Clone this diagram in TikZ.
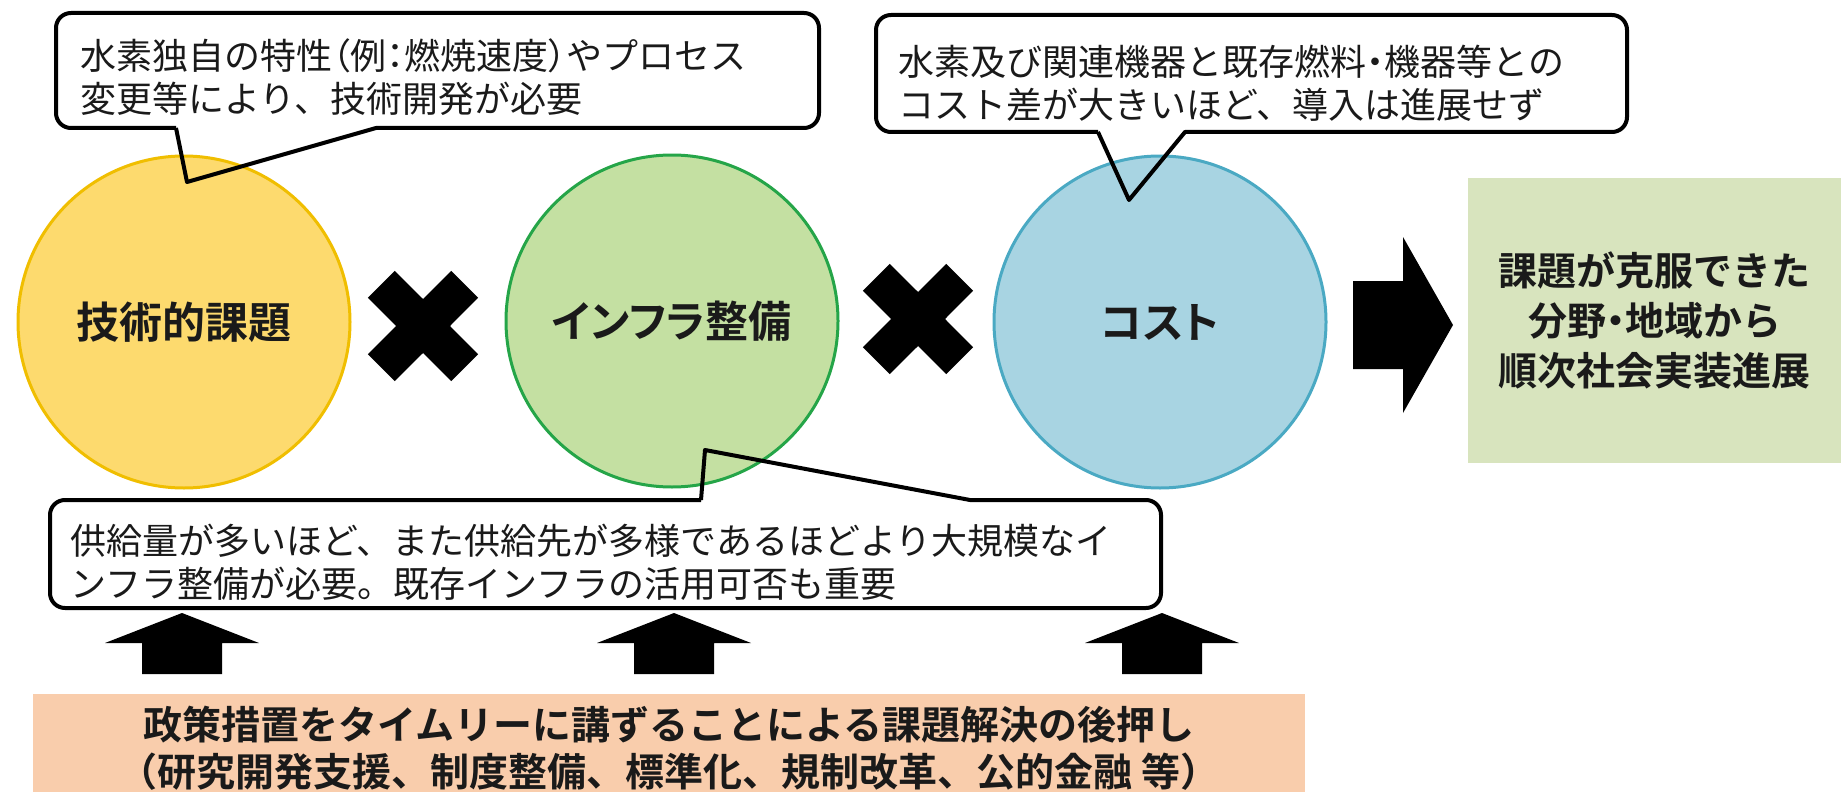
\documentclass[tikz,border=0pt]{standalone}
\usepackage{fontspec}
\newfontfamily\jp[BoldFont={Noto Sans CJK JP Bold}]{Noto Sans CJK JP}
\newfontfamily\jpp[BoldFont={Noto Sans CJK JP Bold},RawFeature=+palt]{Noto Sans CJK JP}
\definecolor{yelF}{HTML}{FDDA6E}
\definecolor{yelB}{HTML}{F0BE00}
\definecolor{grnF}{HTML}{C4E0A2}
\definecolor{grnB}{HTML}{25A548}
\definecolor{bluF}{HTML}{A8D4E2}
\definecolor{bluB}{HTML}{4AA9C3}
\definecolor{oliveF}{HTML}{D8E4BE}
\definecolor{peachF}{HTML}{F9CDAC}
\definecolor{txt}{HTML}{1A1A1A}
\begin{document}
\begin{tikzpicture}[x=0.5pt,y=-0.5pt,
  circ/.style={circle, draw, line width=1.5pt, minimum size=166pt, inner sep=0pt,
    text=txt, font=\jpp\bfseries\fontsize{21.5}{26}\selectfont},
  calltext/.style={anchor=west, align=left, inner sep=0pt, text=txt,
    font=\jp\fontsize{18}{21.5}\selectfont},
  callline/.style={draw=black, line width=2pt, line join=round},
  xmark/.pic={\fill[black] (0,-27) -- (28.3,-55.1) -- (55.1,-28.3) -- (27,0)
      -- (55.1,28.3) -- (28.3,55.1) -- (0,27) -- (-28.3,55.1) -- (-55.1,28.3)
      -- (-27,0) -- (-55.1,-28.3) -- (-28.3,-55.1) -- cycle;},
  uparrow/.pic={\fill[black] (0,0) -- (77,30) -- (40,30) -- (40,61) -- (-40,61)
      -- (-40,30) -- (-77,30) -- cycle;}
  ]
\fill[white] (0,0) rectangle (1841,792);
\useasboundingbox (0,0) rectangle (1841,792);

% circles
\node[circ, draw=yelB, fill=yelF] (tech) at (184,322) {技術的課題};
\node[circ, draw=grnB, fill=grnF] (infra) at (672,321) {インフラ整備};
\node[circ, draw=bluB, fill=bluF] (cost) at (1160,322) {コスト};

% multiplication marks
\pic at (423,326) {xmark};
\pic at (918,319) {xmark};

% right arrow
\fill[black] (1353,281) -- (1403,281) -- (1403,237) -- (1453,325) -- (1403,413)
  -- (1403,369) -- (1353,369) -- cycle;

% result box
\node[fill=oliveF, anchor=north west, minimum width=186.5pt, minimum height=142.5pt,
  inner sep=0pt, align=center, text=txt,
  font=\jp\bfseries\fontsize{19.5}{25}\selectfont] (result) at (1468,178)
  {課題が克服できた\\分野{\jpp ・}地域から\\順次社会実装進展};

% callout 1
\fill[white, rounded corners=7.5pt] (56,13) rectangle (819,128);
\draw[callline] (176,128) -- (187,182) -- (376,128) [rounded corners=7.5pt] -- (819,128)
  -- (819,13) -- (56,13) -- (56,128) [sharp corners] -- (176,128);
\node[calltext] (c1) at (80,77) {水素独自の特性{\jpp （例：}燃焼速度{\jpp ）}やプロセス\\変更等により、技術開発が必要};

% callout 2
\fill[white, rounded corners=7.5pt] (876,15) rectangle (1627,132);
\draw[callline] (1098,132) -- (1129,200) -- (1185,132) [rounded corners=7.5pt] -- (1627,132)
  -- (1627,15) -- (876,15) -- (876,132) [sharp corners] -- (1098,132);
\node[calltext] (c2) at (898,83) {水素及び関連機器と既存燃料{\jpp ・}機器等との\\コスト差が大きいほど、導入は進展せず};

% callout 3
\fill[white, rounded corners=7.5pt] (50,500) rectangle (1161,608);
\draw[callline] (701,500) -- (705,450) -- (970,500) [rounded corners=7.5pt] -- (1161,500)
  -- (1161,608) -- (50,608) -- (50,500) [sharp corners] -- (701,500);
\node[calltext] (c3) at (70,562) {供給量が多いほど、また供給先が多様であるほどより大規模なイ\\ンフラ整備が必要。既存インフラの活用可否も重要};

% up arrows
\pic at (182,613) {uparrow};
\pic at (674,613) {uparrow};
\pic at (1162,613) {uparrow};

% policy box
\fill[peachF] (33,694) rectangle (1305,792);
\node[inner sep=0pt, align=center, text=txt,
  font=\jp\bfseries\fontsize{19.5}{23.5}\selectfont] (policy) at (669,748)
  {政策措置をタイムリーに講ずることによる課題解決の後押し\\（研究開発支援、制度整備、標準化、規制改革、公的金融 等）};
\end{tikzpicture}
\end{document}
